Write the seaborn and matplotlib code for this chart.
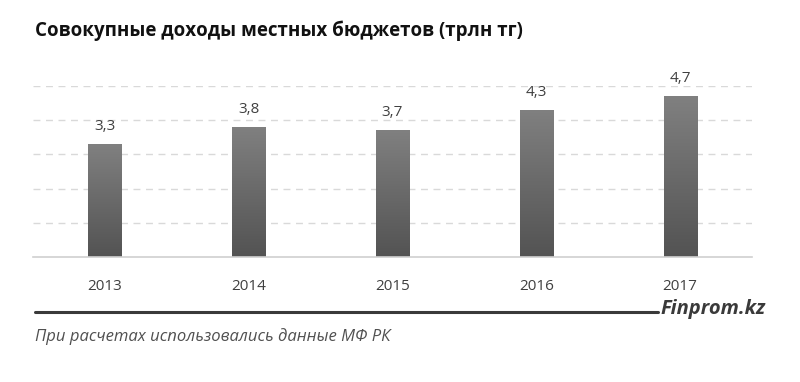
import numpy as np
import pandas as pd
import matplotlib.pyplot as plt
import seaborn as sns

# --- DATA ---
years = ["2013", "2014", "2015", "2016", "2017"]
revenues = [3.3, 3.8, 3.7, 4.3, 4.7]
value_labels = ["3,3", "3,8", "3,7", "4,3", "4,7"]

title_text = "Совокупные доходы местных бюджетов (трлн тг)"
brand_text = "Finprom.kz"
source_text = "При расчетах использовались данные МФ РК"

df = pd.DataFrame({"year": years, "value": revenues})

# --- FIGURE ---
sns.set_style("white")
plt.rcParams['font.family'] = ['Open Sans', 'DejaVu Sans']

fig = plt.figure(figsize=(8, 3.82), dpi=100)
ax = fig.add_axes([0.041, 0.327, 0.899, 0.448])

sns.barplot(data=df, x="year", y="value", color="#6a6a6a", width=0.23,
            edgecolor="none", ax=ax)

# gradient fill on each bar
grad = np.linspace(0, 1, 256).reshape(-1, 1)
cmap = plt.matplotlib.colors.LinearSegmentedColormap.from_list("g", ["#535353", "#808080"])
for patch in ax.patches:
    x0, y0 = patch.get_x(), patch.get_y()
    w, h = patch.get_width(), patch.get_height()
    im = ax.imshow(grad, extent=[x0, x0 + w, y0, y0 + h], origin="lower",
                   aspect="auto", cmap=cmap, zorder=patch.get_zorder() + 0.1)
    im.set_clip_path(patch)

for i, (v, lab) in enumerate(zip(revenues, value_labels)):
    ax.text(i, v + 0.3, lab, ha="center", va="bottom", fontsize=11, color="#404040")

ax.set_xlim(-0.5, 4.5)
ax.set_ylim(0, 5)
ax.set_yticks([1, 2, 3, 4, 5])
ax.yaxis.grid(True, linestyle=(0, (5, 4)), color="#d9d9d9", linewidth=1)
ax.set_axisbelow(True)
ax.tick_params(axis="y", left=False, labelleft=False)
ax.tick_params(axis="x", bottom=False, pad=12, labelsize=11, labelcolor="#404040")
ax.set_xlabel("")
ax.set_ylabel("")
for s in ["top", "right", "left"]:
    ax.spines[s].set_visible(False)
ax.spines["bottom"].set_color("#d0d0d0")
ax.spines["bottom"].set_linewidth(1.2)

# --- TITLE, BRAND LINE, SOURCE ---
fig.text(0.044, 0.92, title_text, fontsize=13.5, fontweight="bold", color="#111111",
         ha="left", va="center")
fig.add_artist(plt.Line2D([0.044, 0.823], [0.183, 0.183], color="#3a3a3a", linewidth=2.2))
fig.text(0.825, 0.19, brand_text, fontsize=14.5, fontweight="bold", fontstyle="italic",
         color="#3a3a3a", ha="left", va="center")
fig.text(0.044, 0.118, source_text, fontsize=12, fontstyle="italic", color="#505050",
         ha="left", va="center")

fig.savefig("out.png", dpi=100)
